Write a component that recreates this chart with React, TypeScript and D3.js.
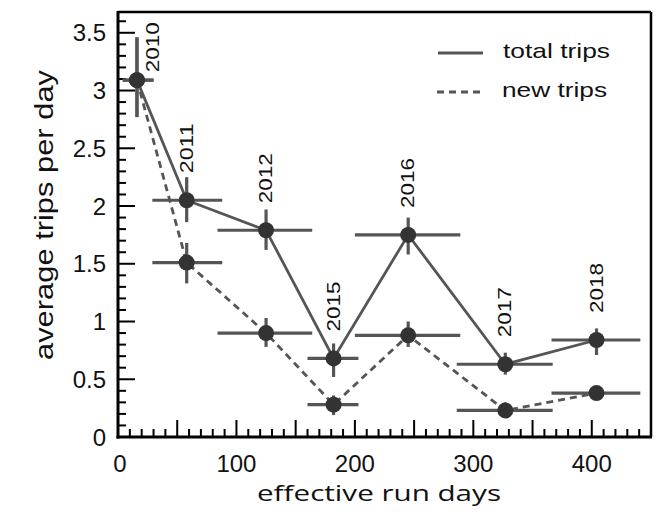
import React from 'react';
import * as d3 from 'd3';

// values
const years = ['2010', '2011', '2012', '2015', '2016', '2017', '2018'];
const runDays = [16, 58, 125, 182, 245, 327, 404];
const daysLo = [4, 29, 84, 160, 200, 286, 366];
const daysHi = [30, 88, 164, 203, 289, 367, 441];
const totalTrips = [3.09, 2.05, 1.79, 0.68, 1.75, 0.63, 0.84];
const totalLo = [2.77, 1.86, 1.62, 0.52, 1.58, 0.54, 0.71];
const totalHi = [3.46, 2.25, 1.97, 0.81, 1.9, 0.73, 0.94];
const newTrips = [3.09, 1.51, 0.9, 0.28, 0.88, 0.23, 0.38];
const newLo = [2.77, 1.33, 0.78, 0.19, 0.78, 0.17, 0.33];
const newHi = [3.46, 1.68, 1.03, 0.36, 1.0, 0.3, 0.43];
const xTickLabels = [0, 100, 200, 300, 400];
const yTickLabels = [0, 0.5, 1, 1.5, 2, 2.5, 3, 3.5];

const W = 664;
const H = 515;
const margin = { top: 12, right: 13, bottom: 78, left: 118 };

const App = () => {
  const x = d3.scaleLinear().domain([0, 450]).range([margin.left, W - margin.right]);
  const y = d3.scaleLinear().domain([0, 3.68]).range([H - margin.bottom, margin.top]);
  const x0 = margin.left;
  const y0 = H - margin.bottom;

  const lineGray = '#555';
  const dotColor = '#333';

  const total = years.map((yr, i) => ({ yr, d: runDays[i], lo: daysLo[i], hi: daysHi[i], v: totalTrips[i], vlo: totalLo[i], vhi: totalHi[i] }));
  const fresh = years.map((yr, i) => ({ yr, d: runDays[i], lo: daysLo[i], hi: daysHi[i], v: newTrips[i], vlo: newLo[i], vhi: newHi[i] }));

  const line = d3.line<any>().x(p => x(p.d)).y(p => y(p.v));

  const xMinor = d3.range(0, 451, 10);
  const yMinor = d3.range(0, 3.65, 0.1);

  const errBars = (pts: any[], key: string) =>
    pts.map((p, i) => (
      <g key={key + i} stroke={lineGray} strokeWidth={3.2}>
        <line x1={x(p.lo)} x2={x(p.hi)} y1={y(p.v)} y2={y(p.v)} />
        <line x1={x(p.d)} x2={x(p.d)} y1={y(p.vlo)} y2={y(p.vhi)} />
      </g>
    ));

  return (
    <svg width={W} height={H} style={{ position: 'absolute', left: 0, top: 0, background: 'white' }}>
      {/* ticks, pointing inward */}
      <g stroke="#000" strokeWidth={2}>
        {xMinor.map(t => {
          const major = Math.round(t) % 50 === 0;
          return <line key={'xt' + t} x1={x(t)} x2={x(t)} y1={y0} y2={y0 - (major ? 17 : 8)} />;
        })}
        {yMinor.map(t => {
          const major = Math.round(t * 10) % 5 === 0;
          return <line key={'yt' + t} x1={x0} x2={x0 + (major ? 17 : 8)} y1={y(t)} y2={y(t)} />;
        })}
      </g>

      {/* series lines */}
      <path d={line(total) || ''} fill="none" stroke={lineGray} strokeWidth={2.8} />
      <path d={line(fresh) || ''} fill="none" stroke={lineGray} strokeWidth={2.8} strokeDasharray="7,5" />

      {errBars(total, 't')}
      {errBars(fresh, 'n')}

      {total.map((p, i) => <circle key={'tc' + i} cx={x(p.d)} cy={y(p.v)} r={8} fill={dotColor} />)}
      {fresh.map((p, i) => <circle key={'nc' + i} cx={x(p.d)} cy={y(p.v)} r={8} fill={dotColor} />)}

      {/* year labels */}
      {total.map((p, i) => {
        const lx = i === 0 ? x(p.d) + 16 : x(p.d);
        const ly = i === 0 ? y(p.v) - 8 : y(p.v) - 27;
        return (
          <text
            key={'yl' + i}
            transform={`translate(${lx},${ly}) rotate(-90)`}
            fontFamily="Liberation Sans, Arial, sans-serif"
            fontSize={18}
            dominantBaseline="central"
            textLength={50}
            lengthAdjust="spacingAndGlyphs"
            fill="#111"
          >
            {p.yr}
          </text>
        );
      })}

      {/* frame */}
      <line x1={x0} x2={W - margin.right} y1={margin.top} y2={margin.top} stroke="#000" strokeWidth={2.5} />
      <line x1={W - margin.right} x2={W - margin.right} y1={margin.top} y2={y0} stroke="#000" strokeWidth={2.5} />
      <line x1={x0} x2={x0} y1={margin.top - 1} y2={y0 + 1.5} stroke="#000" strokeWidth={3} />
      <line x1={x0 - 1.5} x2={W - margin.right + 1} y1={y0} y2={y0} stroke="#000" strokeWidth={3} />

      {/* tick labels */}
      {xTickLabels.map(t => (
        <text key={'xl' + t} x={x(t) + (t === 0 ? 2 : 0)} y={472} textAnchor="middle" fontFamily="Liberation Sans, Arial, sans-serif" fontSize={24} fill="#111">
          {t}
        </text>
      ))}
      {yTickLabels.map(t => (
        <text key={'yl' + t} x={106} y={y(t)} textAnchor="end" dominantBaseline="central" fontFamily="Liberation Sans, Arial, sans-serif" fontSize={24} fill="#111">
          {t}
        </text>
      ))}

      {/* axis titles */}
      <text x={257} y={501} fontFamily="Open Sans, sans-serif" fontSize={21} textLength={244} lengthAdjust="spacingAndGlyphs" fill="#111">
        effective run days
      </text>
      <text
        transform={`translate(53,360) rotate(-90)`}
        fontFamily="Liberation Sans, Arial, sans-serif"
        fontSize={25}
        textLength={290}
        lengthAdjust="spacingAndGlyphs"
        fill="#111"
      >
        average trips per day
      </text>

      {/* legend */}
      <line x1={438} x2={483} y1={53} y2={53} stroke={lineGray} strokeWidth={2.8} />
      <line x1={437} x2={483} y1={92} y2={92} stroke={lineGray} strokeWidth={2.8} strokeDasharray="7,5" />
      <text x={503} y={58} fontFamily="Liberation Sans, Arial, sans-serif" fontSize={21} textLength={107} lengthAdjust="spacingAndGlyphs" fill="#111">
        total trips
      </text>
      <text x={502} y={97} fontFamily="Liberation Sans, Arial, sans-serif" fontSize={21} textLength={105} lengthAdjust="spacingAndGlyphs" fill="#111">
        new trips
      </text>
    </svg>
  );
};

export default App;
